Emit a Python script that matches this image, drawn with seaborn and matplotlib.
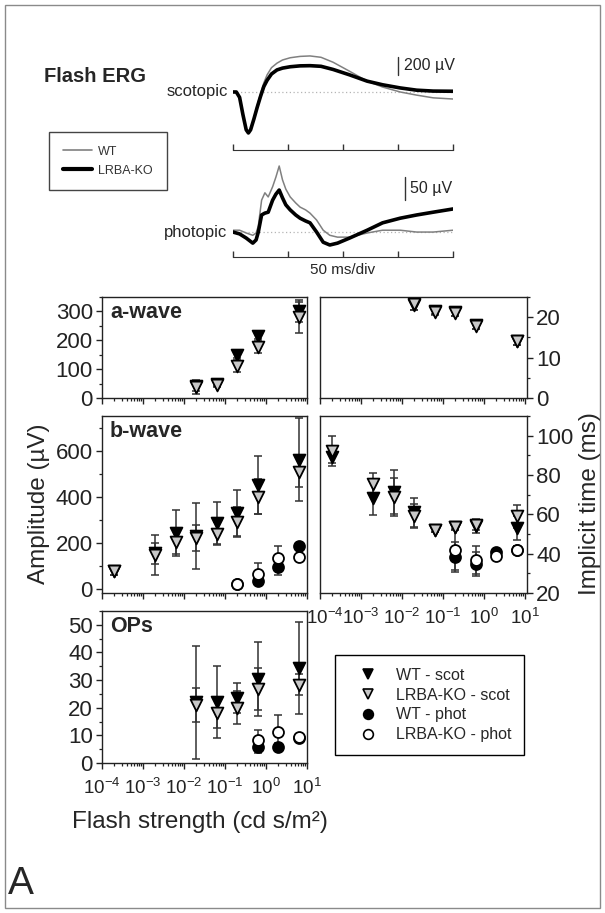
import numpy as np
import pandas as pd
import matplotlib
matplotlib.use("Agg")
import matplotlib.pyplot as plt
import seaborn as sns
from matplotlib.lines import Line2D
from matplotlib.patches import Rectangle
from matplotlib.transforms import ScaledTranslation
from matplotlib.ticker import LogLocator, NullFormatter, MultipleLocator

sns.set_style("ticks")
plt.rcParams['font.family'] = ['Liberation Sans', 'DejaVu Sans']
plt.rcParams['mathtext.fontset'] = 'custom'
plt.rcParams['mathtext.rm'] = 'Liberation Sans'
plt.rcParams['mathtext.it'] = 'Liberation Sans:italic'
plt.rcParams['mathtext.bf'] = 'Liberation Sans:bold'
plt.rcParams['axes.edgecolor'] = '#222222'
plt.rcParams['xtick.color'] = '#222222'
plt.rcParams['ytick.color'] = '#222222'

# ---------------- ERG traces (time in ms, amplitude in uV) ----------------
scot_t = [0, 3, 6, 9, 12, 14, 16, 19, 22, 25, 28, 31, 35, 40, 45, 52, 61, 70,
          80, 91, 106, 122, 136, 152, 167, 182, 200]
scot_wt = [0, 0, -55, -240, -410, -445, -410, -290, -150, -20, 100, 190, 270,
           320, 355, 380, 395, 400, 385, 330, 230, 120, 55, 0, -35, -65, -78]
scot_ko = [0, 0, -60, -250, -420, -455, -420, -300, -170, -50, 60, 130, 200,
           245, 265, 280, 290, 292, 285, 250, 190, 120, 80, 45, 20, 10, 8]

phot_t = [0, 6, 12, 18, 21, 23, 26, 29, 32, 36, 39, 42, 45, 48, 52, 57, 61, 66,
          70, 76, 82, 88, 95, 106, 122, 136, 152, 167, 182, 200]
phot_wt = [4, 4, -2, -7, -2, 13, 69, 85, 76, 98, 119, 143, 113, 93, 76, 63, 54,
           48, 41, 26, 4, -7, -11, -11, -2, 4, 4, 0, 0, 4]
phot_ko = [0, -4, -13, -24, -17, 0, 37, 41, 43, 69, 82, 91, 74, 59, 48, 37, 30,
           24, 20, 0, -22, -28, -24, -13, 4, 20, 30, 37, 43, 50]

# ---------------- summary data (flash strength in cd s/m2) ----------------
# a-wave
a_x = [0.02, 0.063, 0.2, 0.63, 6.3]
a_amp_wt = [40, 47, 150, 216, 303]
a_amp_wt_err = [15, 6, 10, 10, 38]
a_amp_ko = [38, 45, 111, 178, 279]
a_amp_ko_err = [25, 8, 21, 21, 53]
a_time_wt = [23.0, 21.5, 21.2, 18.0, 14.2]
a_time_wt_err = [1.2, 0.8, 0.8, 0.8, 1.0]
a_time_ko = [23.3, 21.3, 21.0, 17.8, 14.0]
a_time_ko_err = [1.5, 0.8, 0.8, 0.8, 1.0]

# b-wave scotopic
b_x = [2e-4, 2e-3, 6.3e-3, 0.02, 0.063, 0.2, 0.63, 6.3]
b_amp_wt = [80, 155, 243, 230, 287, 330, 452, 561]
b_amp_wt_err = [20, 45, 100, 145, 90, 100, 125, 180]
b_amp_ko = [78, 148, 204, 222, 239, 291, 400, 509]
b_amp_ko_err = [18, 88, 50, 55, 50, 65, 75, 65]
b_time_wt = [89, 68.3, 71.4, 61, 52, 53.6, 54, 53]
b_time_wt_err = [3, 8.5, 11.2, 7.3, 1, 1.5, 3.5, 6]
b_time_ko = [92.3, 75.5, 68.9, 59, 52, 53.6, 54.5, 59]
b_time_ko_err = [7.7, 5.5, 9.5, 6, 1, 1, 2.5, 5.8]

# b-wave photopic
bp_x = [0.2, 0.63, 2, 6.3]
bp_amp_wt = [20, 35, 96, 187]
bp_amp_wt_err = [5, 18, 35, 10]
bp_amp_ko = [22, 65, 135, 139]
bp_amp_ko_err = [5, 48, 50, 12]
bp_time_wt = [38.3, 34.8, 40.8, 42]
bp_time_wt_err = [7.6, 6.2, 1.5, 2]
bp_time_ko = [41.9, 36.8, 38.8, 41.9]
bp_time_ko_err = [10, 7.2, 1.5, 2]

# oscillatory potentials
o_x = [0.02, 0.063, 0.2, 0.63, 6.3]
o_wt = [22, 22, 23.5, 30.4, 34.4]
o_wt_err = [20.5, 13, 5.5, 13.5, 16.6]
o_ko = [21, 18, 20, 26.8, 28.3]
o_ko_err = [6, 5.5, 6, 7.6, 3.8]
op_x = [0.63, 2, 6.3]
op_wt = [5.9, 5.8, 9.0]
op_wt_err = [2.3, 1.5, 1]
op_ko = [8.3, 11.2, 9.4]
op_ko_err = [3.7, 6.2, 1]

W, H = 605, 913
fig = plt.figure(figsize=(W / 100, H / 100), dpi=100)


def box(l, t, r, b):
    return [l / W, 1 - b / H, (r - l) / W, (b - t) / H]


def draw_trace(ax, t, wt, ko, ylim):
    df = pd.DataFrame({'t': t, 'WT': wt, 'LRBA-KO': ko})
    ax.plot([0, 200], [0, 0], ls=(0, (1, 2)), color='#b5b5b5', lw=0.9)
    sns.lineplot(data=df, x='t', y='WT', color='#808080', lw=1.1, ax=ax,
                 sort=False, estimator=None)
    sns.lineplot(data=df, x='t', y='LRBA-KO', color='black', lw=2.6, ax=ax,
                 sort=False, estimator=None)
    ax.set_xlim(0, 200)
    ax.set_ylim(*ylim)
    ax.set_xticks([0, 50, 100, 150, 200])
    ax.set_yticks([])
    ax.tick_params(axis='x', direction='in', length=4, width=1,
                   labelbottom=False, color='#333333')
    for s in ['left', 'top', 'right']:
        ax.spines[s].set_visible(False)
    ax.spines['bottom'].set_color('#333333')
    ax.set_xlabel('')
    ax.set_ylabel('')
    ax.patch.set_alpha(0)


ax_sc = fig.add_axes(box(233, 40, 453, 150))
draw_trace(ax_sc, scot_t, scot_wt, scot_ko, (-644, 577))
ax_sc.text(-5, 0, 'scotopic', ha='right', va='center', fontsize=12)
ax_sc.plot([150, 150], [190, 390], color='#333333', lw=1)
ax_sc.text(155, 290, '200 µV', ha='left', va='center', fontsize=11.5)

ax_ph = fig.add_axes(box(233, 160, 453, 257))
draw_trace(ax_ph, phot_t, phot_wt, phot_ko, (-54, 156))
ax_ph.text(-5, 0, 'photopic', ha='right', va='center', fontsize=12)
ax_ph.plot([156, 156], [70, 120], color='#333333', lw=1)
ax_ph.text(161, 94, '50 µV', ha='left', va='center', fontsize=11.5)
ax_ph.annotate('50 ms/div', xy=(100, 0), xycoords=('data', 'axes fraction'),
               xytext=(0, -9.5), textcoords='offset points', ha='center',
               va='center', fontsize=11)

fig.text(44 / W, 1 - 77 / H, 'Flash ERG', fontsize=14.5, fontweight='bold',
         ha='left', va='center')

trace_handles = [Line2D([], [], color='#808080', lw=1.2),
                 Line2D([], [], color='black', lw=3)]
leg1 = fig.legend(trace_handles, ['WT', 'LRBA-KO'], loc='upper left',
                  bbox_to_anchor=(49 / W, 1 - 132 / H), frameon=True,
                  fancybox=False, edgecolor='#444444', fontsize=9,
                  handlelength=2.3, handletextpad=0.55, borderpad=1.1,
                  labelspacing=0.55, borderaxespad=0, framealpha=1)
leg1.get_frame().set_linewidth(1)
for txt in leg1.get_texts():
    txt.set_color('#333333')

# ---------------- summary panels ----------------
ax_a_l = fig.add_axes(box(102, 297, 307, 398))
ax_a_r = fig.add_axes(box(320, 297, 527, 398))
ax_b_l = fig.add_axes(box(102, 416, 307, 593))
ax_b_r = fig.add_axes(box(320, 416, 527, 593))
ax_o_l = fig.add_axes(box(102, 611, 307, 763))
ax_o_l.patch.set_alpha(0)
ax_b_r.set_zorder(5)

STYLES = {
    'scot': (dict(marker='v', color='black'), dict(marker='v', color='#c8c8c8'), 72),
    'phot': (dict(marker='o', color='black'), dict(marker='o', color='white'), 62),
}


def draw_group(ax, x, wt, wt_err, ko, ko_err, kind):
    st_wt, st_ko, size = STYLES[kind]
    for y, e in ((wt, wt_err), (ko, ko_err)):
        ax.errorbar(x, y, yerr=e, fmt='none', ecolor='#333333', elinewidth=1.1,
                    capsize=3.2, capthick=1.1, zorder=2)
    sns.scatterplot(x=x, y=wt, ax=ax, s=size, edgecolor='black',
                    linewidth=1.3, zorder=3, **st_wt)
    sns.scatterplot(x=x, y=ko, ax=ax, s=size, edgecolor='black',
                    linewidth=1.3, zorder=4, **st_ko)


def style(ax, ylim, major, minor, right=False, xlabels=False, xmax=1e1):
    ax.set_xscale('log')
    ax.set_xlim(1e-4, xmax)
    ax.set_ylim(*ylim)
    ax.xaxis.set_major_locator(LogLocator(base=10, numticks=10))
    ax.xaxis.set_minor_locator(LogLocator(base=10, subs=np.arange(2, 10), numticks=20))
    ax.xaxis.set_minor_formatter(NullFormatter())
    ax.yaxis.set_major_locator(MultipleLocator(major))
    ax.yaxis.set_minor_locator(MultipleLocator(minor))
    ax.tick_params(which='major', direction='out', length=4, width=1)
    ax.tick_params(which='minor', direction='out', length=2.3, width=0.9)
    ax.tick_params(axis='y', labelsize=16, pad=2.5)
    ax.tick_params(axis='x', labelsize=13.5, labelbottom=xlabels, top=False, pad=7)
    if right:
        ax.yaxis.tick_right()
    for sp in ax.spines.values():
        sp.set_visible(True)
        sp.set_linewidth(1)
    ax.set_xlabel('')
    ax.set_ylabel('')


def panel_label(ax, text):
    ax.annotate(text, xy=(0, 1), xycoords='axes fraction', xytext=(5.8, -11.5),
                textcoords='offset points', ha='left', va='center',
                fontsize=15.5, fontweight='bold')


style(ax_a_l, (0, 350), 100, 50)
style(ax_a_r, (0, 25), 10, 5, right=True, xmax=10 ** 1.05)
style(ax_b_l, (-17, 750), 200, 100)
style(ax_b_r, (20, 110), 20, 10, right=True, xlabels=True, xmax=10 ** 1.05)
style(ax_o_l, (0, 55), 10, 5, xlabels=True)

draw_group(ax_a_l, a_x, a_amp_wt, a_amp_wt_err, a_amp_ko, a_amp_ko_err, 'scot')
draw_group(ax_a_r, a_x, a_time_wt, a_time_wt_err, a_time_ko, a_time_ko_err, 'scot')
draw_group(ax_b_l, b_x, b_amp_wt, b_amp_wt_err, b_amp_ko, b_amp_ko_err, 'scot')
draw_group(ax_b_l, bp_x, bp_amp_wt, bp_amp_wt_err, bp_amp_ko, bp_amp_ko_err, 'phot')
draw_group(ax_b_r, b_x, b_time_wt, b_time_wt_err, b_time_ko, b_time_ko_err, 'scot')
draw_group(ax_b_r, bp_x, bp_time_wt, bp_time_wt_err, bp_time_ko, bp_time_ko_err, 'phot')
draw_group(ax_o_l, o_x, o_wt, o_wt_err, o_ko, o_ko_err, 'scot')
draw_group(ax_o_l, op_x, op_wt, op_wt_err, op_ko, op_ko_err, 'phot')

# re-apply limits after seaborn autoscaling
for ax, yl, xm in ((ax_a_l, (0, 350), 1e1), (ax_a_r, (0, 25), 10 ** 1.05),
                   (ax_b_l, (-17, 750), 1e1), (ax_b_r, (20, 110), 10 ** 1.05),
                   (ax_o_l, (0, 55), 1e1)):
    ax.set_xlim(1e-4, xm)
    ax.set_ylim(*yl)
    ax.set_xlabel('')
    ax.set_ylabel('')

panel_label(ax_a_l, 'a-wave')
panel_label(ax_b_l, 'b-wave')
panel_label(ax_o_l, 'OPs')

fig.text(39 / W, 1 - 504 / H, 'Amplitude (µV)', rotation=90, ha='center',
         va='center', fontsize=17.5)
fig.text(590 / W, 1 - 504 / H, 'Implicit time (ms)', rotation=90, ha='center',
         va='center', fontsize=17.5)
fig.text(200 / W, 1 - 822 / H, 'Flash strength (cd s/m²)', ha='center',
         va='center', fontsize=17.5)
fig.text(21 / W, 1 - 884 / H, 'A', ha='center', va='center', fontsize=28)

marker_handles = [
    Line2D([], [], ls='none', marker='v', mfc='black', mec='black', ms=7, mew=1.2),
    Line2D([], [], ls='none', marker='v', mfc='#c8c8c8', mec='black', ms=7, mew=1.2),
    Line2D([], [], ls='none', marker='o', mfc='black', mec='black', ms=7, mew=1.2),
    Line2D([], [], ls='none', marker='o', mfc='white', mec='black', ms=7, mew=1.2),
]
leg2 = fig.legend(marker_handles,
                  ['WT - scot', 'LRBA-KO - scot', 'WT - phot', 'LRBA-KO - phot'],
                  loc='upper left', bbox_to_anchor=(335 / W, 1 - 655 / H),
                  fontsize=11.5, handlelength=2.5, handletextpad=0.5,
                  borderpad=0.8, labelspacing=0.3, fancybox=False,
                  edgecolor='black', framealpha=1, borderaxespad=0, numpoints=1)
leg2.get_frame().set_linewidth(1)

fig.patches.append(Rectangle((5 / W, 1 - 908 / H), 595 / W, 903 / H,
                             transform=fig.transFigure, fill=False,
                             ec='#8a8a8a', lw=1))

# the first decade label of the right column sits a little to the right
fig.canvas.draw()
for tick in ax_b_r.xaxis.get_major_ticks():
    if np.isclose(tick.get_loc(), 1e-4):
        tick.label1.set_transform(tick.label1.get_transform()
                                  + ScaledTranslation(5 / 100, 0, fig.dpi_scale_trans))

fig.savefig('out.png', dpi=100)
